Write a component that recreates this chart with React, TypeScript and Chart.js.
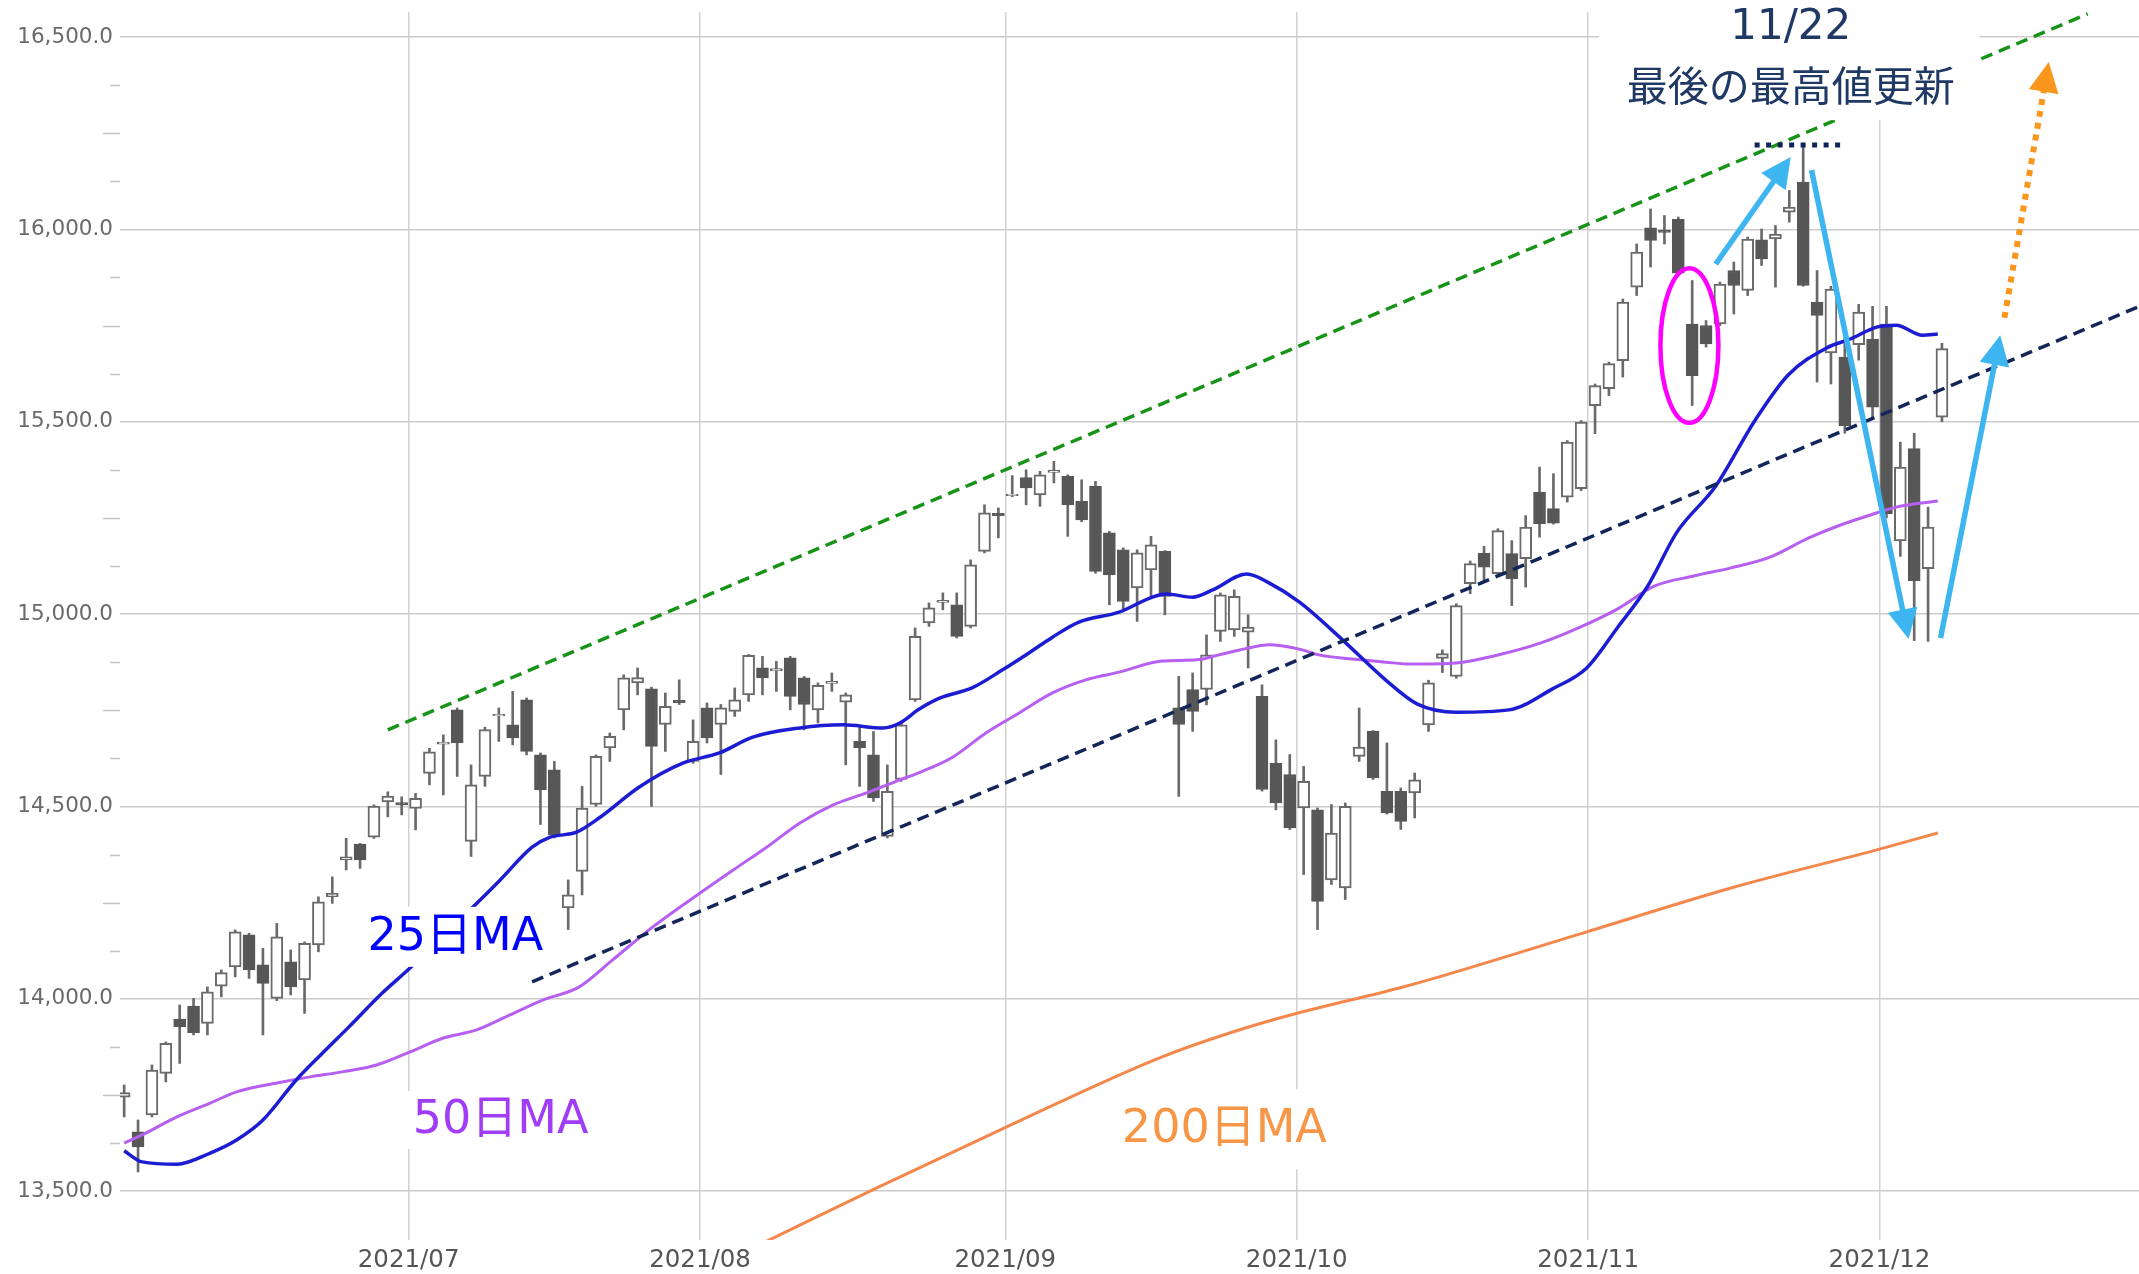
import React, { useEffect, useRef } from "react";
import { Chart, registerables } from "chart.js";

Chart.register(...registerables);

// ---- Candles (NASDAQ-like daily, index = trading day from 2021/06/02) ----
const opens = [13744,13654,13698,13806,13947,13981,13936,14033,14083,14166,14088,14001,14096,14049,14140,14265,14361,14402,14420,14512,14510,14495,14586,14662,14751,14409,14578,14735,14712,14777,14634,14595,14236,14331,14505,14652,14751,14821,14806,14713,14776,14617,14756,14713,14747,14790,14860,14852,14886,14834,14751,14820,14771,14669,14634,14422,14570,14777,14977,15030,15024,14968,15163,15262,15308,15355,15310,15368,15358,15293,15332,15211,15167,15068,15115,15163,14756,14804,14804,14955,14959,14953,14786,14613,14583,14496,14491,14309,14288,14630,14695,14539,14539,14535,14712,14885,14838,15079,15158,15105,15157,15144,15317,15274,15304,15326,15542,15586,15659,15850,16004,15998,16026,15754,15750,15754,15893,15841,15973,15975,16045,16123,15811,15679,15668,15700,15715,15754,15190,15430,15118,15512];
const highs = [13776,13685,13828,13888,13984,14001,14031,14075,14179,14170,14131,14196,14127,14148,14265,14317,14417,14404,14504,14538,14525,14534,14651,14686,14756,14608,14706,14756,14799,14782,14639,14617,14309,14552,14634,14691,14842,14860,14810,14795,14829,14725,14769,14765,14808,14895,14890,14877,14890,14838,14821,14847,14795,14708,14695,14608,14721,14964,15029,15055,15055,15141,15284,15276,15360,15375,15371,15397,15362,15349,15345,15215,15172,15167,15202,15165,14838,14847,14946,15055,15063,14998,14816,14673,14635,14604,14496,14505,14509,14756,14697,14665,14548,14587,14828,14907,15027,15138,15176,15222,15191,15256,15382,15365,15451,15503,15598,15655,15819,15962,16053,16036,16032,15867,15763,15863,15915,15980,16001,16010,16101,16214,15893,15852,15720,15805,15800,15800,15447,15470,15278,15704];
const lows = [13693,13550,13693,13784,13832,13906,13906,14005,14057,14053,13906,13995,14010,13962,14122,14248,14335,14339,14417,14473,14478,14439,14556,14530,14578,14370,14552,14669,14660,14634,14453,14418,14180,14270,14500,14617,14699,14790,14500,14643,14765,14612,14665,14583,14734,14773,14790,14799,14751,14699,14717,14799,14608,14552,14513,14418,14565,14773,14968,15011,14938,14964,15159,15198,15305,15284,15280,15341,15202,15240,15106,15024,15011,14981,15042,14998,14526,14695,14764,14929,14942,14860,14540,14491,14440,14323,14180,14297,14258,14617,14570,14480,14440,14470,14695,14848,14833,15053,15087,15100,15022,15070,15200,15234,15291,15321,15469,15568,15616,15828,15902,15962,15884,15542,15694,15750,15780,15828,15906,15850,16019,15852,15603,15598,15470,15660,15512,15250,15150,14931,14929,15500];
const closes = [13756,13615,13815,13884,13927,13912,14018,14068,14174,14075,14040,14161,14031,14144,14252,14274,14369,14361,14501,14527,14504,14521,14642,14667,14665,14556,14700,14740,14678,14643,14543,14426,14270,14496,14630,14682,14834,14835,14656,14760,14770,14669,14678,14756,14777,14893,14834,14858,14786,14765,14815,14825,14790,14652,14522,14539,14712,14942,15016,15036,14942,15128,15263,15256,15312,15328,15362,15374,15284,15245,15111,15102,15033,15159,15180,15046,14713,14747,14894,15050,15046,14966,14544,14509,14444,14565,14253,14431,14500,14654,14574,14483,14461,14569,14821,14897,15022,15131,15122,15217,15092,15226,15235,15236,15447,15499,15594,15651,15811,15941,15971,15992,15886,15620,15702,15858,15854,15975,15923,15988,16058,15854,15776,15845,15490,15785,15538,15261,15382,15087,15226,15690];

// ---- Moving averages (trading-day index, value) ----
const ma25X = [0,1.3,3.8,6.2,8.1,10,12.4,14.3,16.2,18.6,20.6,25.1,27.1,29.4,30.7,32.6,34.3,37.1,40.3,42.9,45.3,48.7,51.8,54.7,55.9,57.3,58.8,61.1,63.3,65.2,66.9,68.8,71.7,74.1,75.1,77,78.4,80.9,82.5,84.7,87.8,90.9,93.2,96,99.8,102.9,105.4,107.6,109.8,111.9,114.7,117.5,119.9,122.7,124.4,126.3,127.7,129.6,130.7];
const ma25Y = [13605,13576,13570,13599,13633,13685,13789,13859,13927,14015,14080,14237,14309,14394,14420,14433,14472,14550,14613,14639,14680,14704,14712,14704,14717,14753,14782,14808,14855,14899,14940,14979,15005,15044,15052,15044,15062,15104,15081,15031,14933,14829,14766,14745,14751,14805,14860,14964,15073,15213,15333,15502,15621,15692,15715,15746,15751,15725,15728];
const ma50X = [0,1.3,3.8,6.2,8.1,11,13.4,15.7,18.2,20.6,23,25.4,27.8,30.2,32.8,35.2,38.1,41.5,43.9,46.3,48.7,51.1,53.5,55.9,57.3,59.7,62.1,64.5,66.9,69.3,71.7,74.8,77.3,78.9,81.3,82.5,84.9,86.1,88.5,90.9,92.7,96,98.7,102.1,104.8,107.6,110.3,113.1,115.8,118.6,121.4,123.5,125.8,127.7,130.7];
const ma50Y = [13625,13646,13693,13729,13758,13781,13797,13810,13828,13862,13898,13919,13958,13997,14031,14101,14187,14275,14335,14394,14457,14504,14535,14569,14588,14628,14691,14743,14795,14829,14849,14878,14881,14894,14914,14920,14907,14894,14883,14875,14870,14873,14891,14925,14964,15013,15073,15099,15120,15148,15198,15229,15257,15278,15294];
const ma200X = [44,46.2,54.2,63.6,74.8,80.8,84.6,91.9,94.2,105.4,115.8,126.5,130.7];
const ma200Y = [13330,13368,13508,13667,13849,13924,13963,14028,14051,14174,14288,14389,14431];

// ---- Axes ----
const monthTicks = [20.5, 41.5, 63.5, 84.5, 105.5, 126.5];
const monthLabels = ["2021/07", "2021/08", "2021/09", "2021/10", "2021/11", "2021/12"];
const yTicks = [13500, 14000, 14500, 15000, 15500, 16000, 16500];
const minorTicks = [13625,13750,13875,14125,14250,14375,14625,14750,14875,15125,15250,15375,15625,15750,15875,16125,16250,16375];

// ---- Annotations (data coordinates) ----
const greenTrendX = [19.0, 141.5];
const greenTrendY = [14699, 16560];
const navyTrendX = [29.4, 145.1];
const navyTrendY = [14044, 15798];
const highLineX = [117.5, 123.8];
const highLineY = [16219, 16219];
const blueArrows = [
  [114.7, 15910, 120.1, 16188],
  [121.6, 16154, 128.6, 14935],
  [130.9, 14938, 135.2, 15725],
];
const orangeArrow = [135.5, 15770, 138.7, 16435];
const ellipseCenter = [112.8, 15698];
const ellipseRadius = [2.09, 201];
const titleLines = ["11/22", "最後の最高値更新"];
const titleY = [16523, 16375];
const titleX = 120.1;
const titleBox = [106.3, 133.7, 16284];
const maLabels = ["25日MA", "50日MA", "200日MA"];
const maLabelX = [17.54, 20.8, 71.9];
const maLabelY = [14161, 13685, 13661];
const maLabelColors = ["#0000ff", "#a13cf7", "#f79646"];

const annotationPlugin = {
  id: "annotations",
  afterDatasetsDraw(chart: any) {
    const { ctx, scales } = chart;
    const xs = scales.x;
    const ys = scales.y;
    const px = (v: number) => xs.getPixelForValue(v);
    const py = (v: number) => ys.getPixelForValue(v);
    ctx.save();

    // minor y ticks
    ctx.strokeStyle = "#c4c4c4";
    ctx.lineWidth = 1.5;
    const left = chart.chartArea.left;
    minorTicks.forEach((v) => {
      const long = v % 250 === 0;
      const yy = Math.round(py(v)) + 0.5;
      ctx.beginPath();
      ctx.moveTo(left - (long ? 17 : 10), yy);
      ctx.lineTo(left, yy);
      ctx.stroke();
    });

    // top white box with title
    ctx.fillStyle = "#ffffff";
    const bx0 = px(titleBox[0]);
    const bx1 = px(titleBox[1]);
    ctx.fillRect(bx0, 0, bx1 - bx0, py(titleBox[2]));
    ctx.fillStyle = "#1f3864";
    ctx.textAlign = "center";
    ctx.textBaseline = "middle";
    ctx.font = '42px "DejaVu Sans", "Noto Sans CJK JP"';
    ctx.fillText(titleLines[0], px(titleX), py(titleY[0]));
    ctx.font = '41px "Noto Sans CJK JP"';
    ctx.fillText(titleLines[1], px(titleX), py(titleY[1]));

    // MA labels with white boxes
    const boxHalf = [30, 29, 40];
    ctx.textAlign = "left";
    maLabels.forEach((t, i) => {
      ctx.font = '46px "DejaVu Sans", "Noto Sans CJK JP"';
      const w = ctx.measureText(t).width;
      const lx = px(maLabelX[i]);
      const ly = py(maLabelY[i]);
      ctx.fillStyle = "#ffffff";
      ctx.fillRect(lx - 8, ly - boxHalf[i], w + 14, boxHalf[i] * 2);
      ctx.fillStyle = maLabelColors[i];
      ctx.fillText(t, lx, ly + 1);
    });

    // magenta ellipse
    ctx.strokeStyle = "#ff00ff";
    ctx.lineWidth = 4.5;
    ctx.beginPath();
    const ecx = px(ellipseCenter[0]);
    const ecy = py(ellipseCenter[1]);
    ctx.ellipse(ecx, ecy, Math.abs(px(ellipseCenter[0] + ellipseRadius[0]) - ecx), Math.abs(py(ellipseCenter[1] + ellipseRadius[1]) - ecy), 0, 0, Math.PI * 2);
    ctx.stroke();

    const drawArrow = (a: number[], color: string, width: number, dash: number[]) => {
      const x1 = px(a[0]), y1 = py(a[1]), x2 = px(a[2]), y2 = py(a[3]);
      const ang = Math.atan2(y2 - y1, x2 - x1);
      const L = 30, W = 15;
      const bx = x2 - L * Math.cos(ang), by = y2 - L * Math.sin(ang);
      ctx.strokeStyle = color;
      ctx.lineWidth = width;
      ctx.setLineDash(dash);
      ctx.lineCap = "butt";
      ctx.beginPath();
      ctx.moveTo(x1, y1);
      ctx.lineTo(bx + 2 * Math.cos(ang), by + 2 * Math.sin(ang));
      ctx.stroke();
      ctx.setLineDash([]);
      ctx.fillStyle = color;
      ctx.beginPath();
      ctx.moveTo(x2, y2);
      ctx.lineTo(bx + W * Math.sin(ang), by - W * Math.cos(ang));
      ctx.lineTo(bx - W * Math.sin(ang), by + W * Math.cos(ang));
      ctx.closePath();
      ctx.fill();
    };
    blueArrows.forEach((a) => drawArrow(a, "#3db5f0", 5.5, []));
    drawArrow(orangeArrow, "#f8961e", 6, [6, 6]);

    ctx.restore();
  },
};

const idx = opens.map((_, i) => i);

export default function App() {
  const ref = useRef<HTMLCanvasElement>(null);
  useEffect(() => {
    if (!ref.current) return;
    const up = (i: number) => closes[i] >= opens[i];
    const chart = new Chart(ref.current, {
      type: "bar",
      data: {
        datasets: [
          {
            type: "bar",
            label: "wick",
            data: idx.map((i) => ({ x: i, y: [lows[i], highs[i]] })) as any,
            backgroundColor: "#6a6a6a",
            barThickness: 2,
            grouped: false,
            order: 30,
          } as any,
          {
            type: "bar",
            label: "body",
            data: idx.map((i) => ({ x: i, y: [opens[i], closes[i]] })) as any,
            backgroundColor: idx.map((i) => (up(i) ? "#ffffff" : "#575757")),
            borderColor: idx.map((i) => (up(i) ? "#6a6a6a" : "#575757")),
            borderWidth: 2,
            borderSkipped: false,
            barThickness: 12,
            grouped: false,
            order: 29,
          } as any,
          {
            type: "line",
            label: "200MA",
            data: ma200X.map((x, i) => ({ x, y: ma200Y[i] })),
            borderColor: "#f4874b",
            borderWidth: 3,
            pointRadius: 0,
            cubicInterpolationMode: "monotone",
            order: 10,
          } as any,
          {
            type: "line",
            label: "50MA",
            data: ma50X.map((x, i) => ({ x, y: ma50Y[i] })),
            borderColor: "#b65ff0",
            borderWidth: 3,
            pointRadius: 0,
            cubicInterpolationMode: "monotone",
            order: 9,
          } as any,
          {
            type: "line",
            label: "25MA",
            data: ma25X.map((x, i) => ({ x, y: ma25Y[i] })),
            borderColor: "#1c1cd2",
            borderWidth: 3.5,
            pointRadius: 0,
            cubicInterpolationMode: "monotone",
            order: 8,
          } as any,
          {
            type: "line",
            label: "green",
            data: greenTrendX.map((x, i) => ({ x, y: greenTrendY[i] })),
            borderColor: "#179417",
            borderWidth: 3.5,
            borderDash: [12, 7],
            pointRadius: 0,
            order: 3,
          } as any,
          {
            type: "line",
            label: "navy",
            data: navyTrendX.map((x, i) => ({ x, y: navyTrendY[i] })),
            borderColor: "#13265a",
            borderWidth: 3.5,
            borderDash: [12, 7],
            pointRadius: 0,
            order: 2,
          } as any,
          {
            type: "line",
            label: "high",
            data: highLineX.map((x, i) => ({ x, y: highLineY[i] })),
            borderColor: "#0f2356",
            borderWidth: 5,
            borderDash: [5, 6.5],
            pointRadius: 0,
            order: 1,
          } as any,
        ],
      },
      options: {
        animation: false,
        responsive: true,
        maintainAspectRatio: false,
        layout: { padding: { top: 12, left: 0, right: 0, bottom: 0 } },
        plugins: { legend: { display: false }, tooltip: { enabled: false } },
        scales: {
          x: {
            type: "linear",
            min: -0.3,
            max: 145.2,
            offset: false,
            afterBuildTicks: (s: any) => {
              s.ticks = monthTicks.map((v) => ({ value: v }));
            },
            afterFit: (s: any) => {
              s.height = 34;
              s.paddingLeft = 0;
              s.paddingRight = 0;
            },
            ticks: {
              autoSkip: false,
              maxRotation: 0,
              padding: 6,
              color: "#555555",
              font: { family: "DejaVu Sans", size: 24.5 },
              callback: (v: any) => {
                const k = monthTicks.indexOf(Number(v));
                return k >= 0 ? monthLabels[k] : "";
              },
            },
            grid: { color: "#d2d2d2", lineWidth: 1.5, drawTicks: false, offset: false },
            border: { display: false },
          },
          y: {
            type: "linear",
            min: 13373,
            max: 16565,
            afterBuildTicks: (s: any) => {
              s.ticks = yTicks.map((v) => ({ value: v }));
            },
            afterFit: (s: any) => {
              s.width = 120;
              s.paddingTop = 0;
              s.paddingBottom = 0;
            },
            ticks: {
              padding: 7,
              color: "#6a6a6a",
              font: { family: "DejaVu Sans", size: 21.5 },
              callback: (v: any) =>
                Number(v).toLocaleString("en-US", { minimumFractionDigits: 1, maximumFractionDigits: 1 }),
            },
            grid: { color: "#cccccc", lineWidth: 1.5, drawTicks: false },
            border: { display: false },
          },
        },
      } as any,
      plugins: [annotationPlugin],
    } as any);
    return () => chart.destroy();
  }, []);
  return (
    <div style={{ position: "fixed", left: 0, top: 0, width: 2139, height: 1274, background: "#ffffff" }}>
      <canvas ref={ref} />
    </div>
  );
}
